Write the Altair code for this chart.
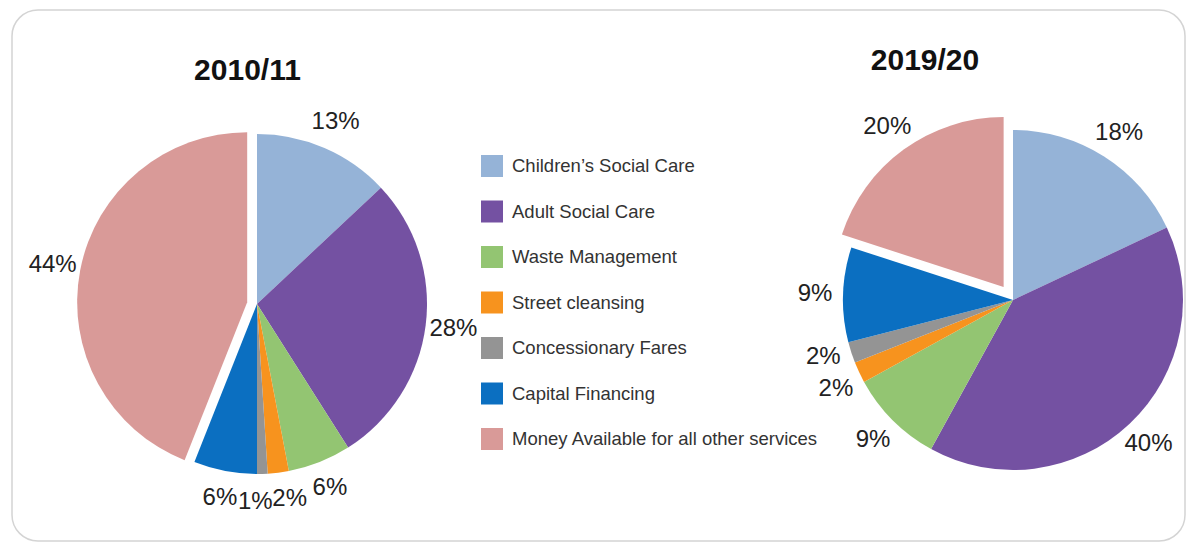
import altair as alt
import pandas as pd

categories = [
    "Children’s Social Care",
    "Adult Social Care",
    "Waste Management",
    "Street cleansing",
    "Concessionary Fares",
    "Capital Financing",
    "Money Available for all other services",
]
years = ["2010/11", "2019/20"]
share_2010 = [13, 28, 6, 2, 1, 6, 44]
share_2019 = [18, 40, 9, 2, 2, 9, 20]
colors = ["#95B3D7", "#7451A2", "#93C572", "#F7931E", "#949494", "#0B6FC1", "#D99A98"]

rows = []
for yr, vals in zip(years, [share_2010, share_2019]):
    for i, (cat, v) in enumerate(zip(categories, vals)):
        rows.append({"year": yr, "category": cat, "value": v, "order": i})
df = pd.DataFrame(rows)

FONT = "Liberation Sans"
R = 170
LABEL_R = 198
MIN_SEP = 0.1745  # minimum angular gap between neighbouring labels (rad)
CX = "datum.year == '2010/11' ? 249 : 1005"
CY = "datum.year == '2010/11' ? 296 : 292"
EXPLODE = ("datum.category == 'Money Available for all other services' ? "
           "(datum.year == '2010/11' ? 10 : 16) : 0")

base = (
    alt.Chart(df)
    .transform_joinaggregate(total="sum(value)", groupby=["year"])
    .transform_window(cum="sum(value)", groupby=["year"],
                      sort=[alt.SortField("order")], frame=[None, 0])
    .transform_calculate(t0="2*PI*(datum.cum - datum.value)/datum.total")
    .transform_calculate(t1="2*PI*datum.cum/datum.total")
    .transform_calculate(mid="(datum.t0 + datum.t1)/2")
    .transform_window(prev_mid="lag(mid)", next_mid="lead(mid)",
                      groupby=["year"], sort=[alt.SortField("order")])
    .transform_calculate(
        push_fwd=f"isValid(datum.prev_mid) ? max(0, {MIN_SEP} - (datum.mid - datum.prev_mid)) : 0")
    .transform_calculate(
        push_back=f"isValid(datum.next_mid) ? max(0, {MIN_SEP} - (datum.next_mid - datum.mid)) : 0")
    .transform_calculate(lmid="datum.mid + 0.5*(datum.push_fwd - datum.push_back)")
    .transform_calculate(cx=CX)
    .transform_calculate(cy=CY)
    .transform_calculate(ex=EXPLODE)
    .transform_calculate(px="datum.cx + datum.ex*sin(datum.mid)")
    .transform_calculate(py="datum.cy - datum.ex*cos(datum.mid)")
    .transform_calculate(lx=f"datum.px + {LABEL_R}*sin(datum.lmid)")
    .transform_calculate(ly=f"datum.py - {LABEL_R}*cos(datum.lmid)")
    .transform_calculate(lbl="datum.value + '%'")
)

pies = base.mark_arc(radius=R, strokeWidth=0).encode(
    x=alt.X("px:Q", scale=None, axis=None),
    y=alt.Y("py:Q", scale=None, axis=None),
    theta=alt.Theta("t0:Q", scale=None, stack=False),
    theta2="t1:Q",
    color=alt.Color(
        "category:N",
        scale=alt.Scale(domain=categories, range=colors),
        legend=alt.Legend(
            orient="none", legendX=473, legendY=147, title=None,
            symbolType="square", symbolSize=484, symbolStrokeWidth=0,
            symbolOpacity=1,
            labelFont=FONT, labelFontSize=18.5, labelColor="#333333",
            labelOffset=9, rowPadding=23.5, padding=0, labelLimit=500,
        ),
    ),
)

labels = base.mark_text(font=FONT, fontSize=24, color="#222222",
                        align="center", baseline="middle").encode(
    x=alt.X("lx:Q", scale=None, axis=None),
    y=alt.Y("ly:Q", scale=None, axis=None),
    text="lbl:N",
)

titles = (
    alt.Chart(pd.DataFrame({"year": years}))
    .transform_calculate(tx="datum.year == '2010/11' ? 239.5 : 917")
    .transform_calculate(ty="datum.year == '2010/11' ? 63 : 53")
    .mark_text(font=FONT, fontSize=30, fontWeight="bold", color="#111111",
               align="center", baseline="middle")
    .encode(
        x=alt.X("tx:Q", scale=None, axis=None),
        y=alt.Y("ty:Q", scale=None, axis=None),
        text="year:N",
    )
)

border = alt.Chart(pd.DataFrame({"k": [0]})).mark_rect(
    cornerRadius=26, fill="white", stroke="#d4d4d4", strokeWidth=1.5
).encode(
    x=alt.value(4), x2=alt.value(1177), y=alt.value(2), y2=alt.value(533)
)

chart = (
    alt.layer(border, pies, labels, titles)
    .properties(width=1178, height=534, padding=0,
                autosize=alt.AutoSizeParams(type="none"),
                background="white")
    .configure_view(strokeWidth=0)
)

chart.save("out.html", embed_options={"renderer": "svg", "actions": False})
